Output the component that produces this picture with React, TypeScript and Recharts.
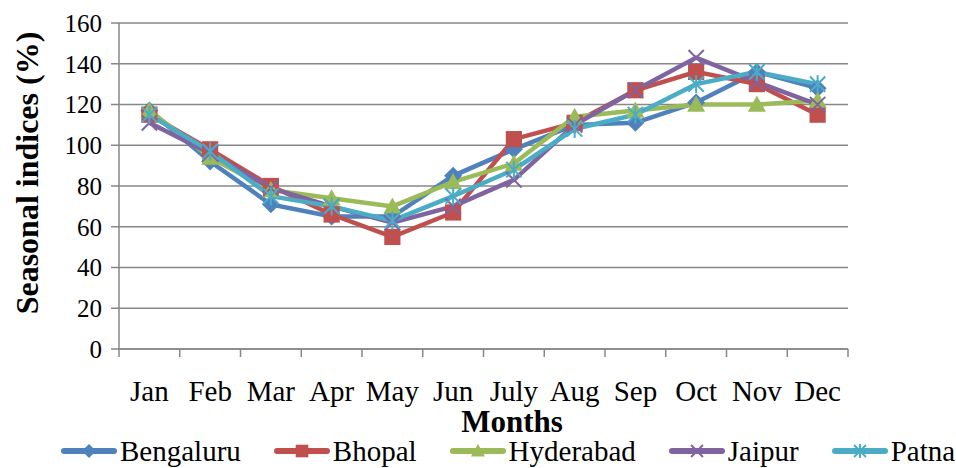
import { CartesianGrid, Label, Legend, Line, LineChart, XAxis, YAxis } from 'recharts'

const FONT = '"Liberation Serif", "Times New Roman", serif'
const AXIS = '#878787'

const months = ['Jan', 'Feb', 'Mar', 'Apr', 'May', 'Jun', 'July', 'Aug', 'Sep', 'Oct', 'Nov', 'Dec']
const bengaluru = [117, 92, 71, 65, 65, 85, 98, 110, 111, 121, 136, 128]
const bhopal = [115, 98, 80, 66, 55, 67, 103, 111, 127, 136, 130, 115]
const hyderabad = [117, 94, 78, 74, 70, 82, 91, 114, 117, 120, 120, 122]
const jaipur = [111, 96, 79, 70, 62, 70, 83, 110, 127, 143, 131, 120]
const patna = [115, 97, 75, 70, 63, 75, 88, 108, 115, 130, 136, 130]
const yTicks = [0, 20, 40, 60, 80, 100, 120, 140, 160]

const series = [
  { key: 'Bengaluru', values: bengaluru, color: '#4F81BD', shape: 'diamond' },
  { key: 'Bhopal', values: bhopal, color: '#C0504D', shape: 'square' },
  { key: 'Hyderabad', values: hyderabad, color: '#9BBB59', shape: 'triangle' },
  { key: 'Jaipur', values: jaipur, color: '#8064A2', shape: 'x' },
  { key: 'Patna', values: patna, color: '#4BACC6', shape: 'star' },
]

const data = months.map((m, i) => {
  const row: Record<string, string | number> = { month: m }
  series.forEach((s) => (row[s.key] = s.values[i]))
  return row
})

// width of one category band (plot area is 729px wide)
const BAND = 729 / 12

function Marker({ cx, cy, shape, color, s = 9 }: any) {
  if (cx == null || cy == null) return null
  if (shape === 'diamond')
    return <polygon points={`${cx},${cy - s} ${cx + s},${cy} ${cx},${cy + s} ${cx - s},${cy}`} fill={color} />
  if (shape === 'square') return <rect x={cx - s * 0.9} y={cy - s * 0.9} width={s * 1.8} height={s * 1.8} fill={color} />
  if (shape === 'triangle')
    return <polygon points={`${cx},${cy - s} ${cx + s},${cy + s * 0.8} ${cx - s},${cy + s * 0.8}`} fill={color} />
  const d = s * 0.85
  return (
    <g stroke={color} strokeWidth={2}>
      <line x1={cx - d} y1={cy - d} x2={cx + d} y2={cy + d} />
      <line x1={cx - d} y1={cy + d} x2={cx + d} y2={cy - d} />
      {shape === 'star' && <line x1={cx} y1={cy - s} x2={cx} y2={cy + s} />}
    </g>
  )
}

// tick marks sit between the categories, labels in the middle
function MonthTick({ x, y, payload, index }: any) {
  const last = index === months.length - 1
  return (
    <g>
      <line x1={x - BAND / 2} x2={x - BAND / 2} y1={y} y2={y + 8} stroke={AXIS} strokeWidth={1.5} />
      {last && <line x1={x + BAND / 2} x2={x + BAND / 2} y1={y} y2={y + 8} stroke={AXIS} strokeWidth={1.5} />}
      <text x={x} y={y + 52} textAnchor="middle" fontFamily={FONT} fontSize={29} fill="#000">
        {payload.value}
      </text>
    </g>
  )
}

function LegendContent() {
  return (
    <div style={{ display: 'flex', alignItems: 'center', gap: 33, color: '#000', whiteSpace: 'nowrap', height: 22 }}>
      {series.map((s) => (
        <div key={s.key} style={{ display: 'flex', alignItems: 'center', height: 22 }}>
          <svg width={56} height={20}>
            <line x1={3} x2={53} y1={10} y2={10} stroke={s.color} strokeWidth={6} strokeLinecap="round" />
            <Marker cx={28} cy={10} shape={s.shape} color={s.color} s={7} />
          </svg>
          <span style={{ marginLeft: 3, fontFamily: 'Liberation Serif', fontSize: 29, lineHeight: '22px' }}>{s.key}</span>
        </div>
      ))}
    </div>
  )
}

export default function App() {
  return (
    <div style={{ position: 'fixed', left: 0, top: 0, width: 956, height: 468, background: '#fff' }}>
      <LineChart width={956} height={468} data={data} margin={{ top: 23, right: 108, bottom: 0, left: 0 }}>
        <CartesianGrid vertical={false} stroke={AXIS} strokeWidth={1.5} />
        <XAxis
          dataKey="month"
          scale="band"
          height={119}
          interval={0}
          axisLine={{ stroke: AXIS, strokeWidth: 1.5 }}
          tickLine={false}
          tickSize={0}
          tickMargin={0}
          tick={<MonthTick />}
        >
          <Label
            content={() => (
              <text x={512} y={432} textAnchor="middle" fontFamily={FONT} fontSize={31} fontWeight="bold" fill="#000">
                Months
              </text>
            )}
          />
        </XAxis>
        <YAxis
          width={119}
          domain={[0, 160]}
          ticks={yTicks}
          interval={0}
          axisLine={{ stroke: AXIS, strokeWidth: 1.5 }}
          tickLine={{ stroke: AXIS, strokeWidth: 1.5 }}
          tickSize={8}
          tickMargin={9}
          tick={{ fontFamily: FONT, fontSize: 25, fill: '#000' }}
        >
          <Label
            content={() => (
              <text
                transform="translate(27,173) rotate(-90)"
                textAnchor="middle"
                dominantBaseline="central"
                fontFamily={FONT}
                fontSize={32}
                fontWeight="bold"
                fill="#000"
              >
                Seasonal indices (%)
              </text>
            )}
          />
        </YAxis>
        <Legend
          layout="horizontal"
          verticalAlign="middle"
          content={<LegendContent />}
          wrapperStyle={{ position: 'absolute', left: 61, top: 440, width: 'auto' }}
        />
        {series.map((s) => (
          <Line
            key={s.key}
            dataKey={s.key}
            name={s.key}
            stroke={s.color}
            strokeWidth={4.5}
            isAnimationActive={false}
            dot={(p: any) => <Marker key={`${s.key}-${p.index}`} cx={p.cx} cy={p.cy} shape={s.shape} color={s.color} />}
            activeDot={false}
          />
        ))}
      </LineChart>
    </div>
  )
}
